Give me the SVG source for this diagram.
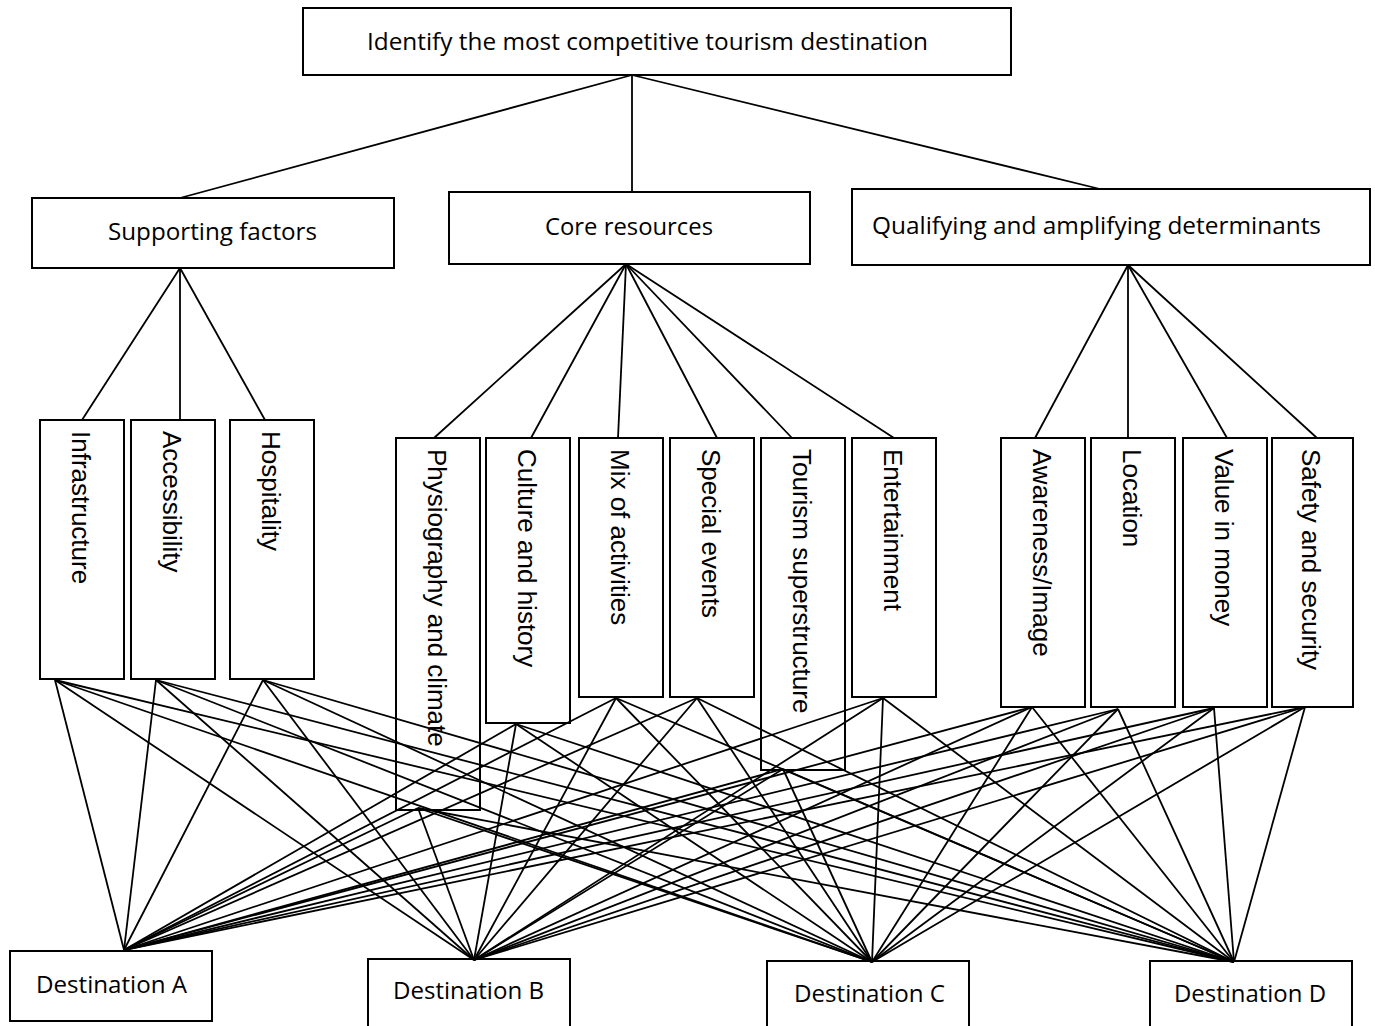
<svg xmlns="http://www.w3.org/2000/svg" width="1375" height="1026" viewBox="0 0 1375 1026">
<style>
.box{fill:#fff;stroke:#000;stroke-width:2}
.h{font-family:"Open Sans","Noto Sans",sans-serif;font-size:24px;fill:#000}
.v{font-family:"Liberation Sans",Arial,sans-serif;font-size:26px;fill:#000}
#connectors line{stroke:#000;stroke-width:1.8}
</style>
<rect width="1375" height="1026" fill="#fff"/>
<g id="goal"><rect class="box" x="303" y="8" width="708" height="67"/><text class="h" x="367" y="50" textLength="561" lengthAdjust="spacingAndGlyphs">Identify the most competitive tourism destination</text></g>
<g id="supporting-factors"><rect class="box" x="32" y="198" width="362" height="70"/><text class="h" x="108" y="240" textLength="209" lengthAdjust="spacingAndGlyphs">Supporting factors</text></g>
<g id="core-resources"><rect class="box" x="449" y="192" width="361" height="72"/><text class="h" x="545" y="235" textLength="168" lengthAdjust="spacingAndGlyphs">Core resources</text></g>
<g id="qualifying"><rect class="box" x="852" y="189" width="518" height="76"/><text class="h" x="872" y="234" textLength="449" lengthAdjust="spacingAndGlyphs">Qualifying and amplifying determinants</text></g>
<g id="infrastructure"><rect class="box" x="40" y="420" width="84" height="259"/><text class="v" transform="translate(72,431) rotate(90)">Infrastructure</text></g>
<g id="accessibility"><rect class="box" x="131" y="420" width="84" height="259"/><text class="v" transform="translate(163,431) rotate(90)">Accessibility</text></g>
<g id="hospitality"><rect class="box" x="230" y="420" width="84" height="259"/><text class="v" transform="translate(262,431) rotate(90)">Hospitality</text></g>
<g id="physiography"><rect class="box" x="396" y="438" width="84" height="372"/><text class="v" transform="translate(428,449) rotate(90)">Physiography and climate</text></g>
<g id="culture"><rect class="box" x="486" y="438" width="84" height="285"/><text class="v" transform="translate(518,449) rotate(90)">Culture and history</text></g>
<g id="mix"><rect class="box" x="579" y="438" width="84" height="259"/><text class="v" transform="translate(611,449) rotate(90)">Mix of activities</text></g>
<g id="special-events"><rect class="box" x="670" y="438" width="84" height="259"/><text class="v" transform="translate(702,449) rotate(90)">Special events</text></g>
<g id="superstructure"><rect class="box" x="761" y="438" width="84" height="332"/><text class="v" transform="translate(793,449) rotate(90)">Tourism superstructure</text></g>
<g id="entertainment"><rect class="box" x="852" y="438" width="84" height="259"/><text class="v" transform="translate(884,449) rotate(90)">Entertainment</text></g>
<g id="awareness"><rect class="box" x="1001" y="438" width="84" height="269"/><text class="v" transform="translate(1033,449) rotate(90)">Awareness/Image</text></g>
<g id="location"><rect class="box" x="1091" y="438" width="84" height="269"/><text class="v" transform="translate(1123,449) rotate(90)">Location</text></g>
<g id="value"><rect class="box" x="1183" y="438" width="84" height="269"/><text class="v" transform="translate(1215,449) rotate(90)">Value in money</text></g>
<g id="safety"><rect class="box" x="1272" y="438" width="81" height="269"/><text class="v" transform="translate(1302,449) rotate(90)">Safety and security</text></g>
<g id="dest-a"><rect class="box" x="10" y="951" width="202" height="70"/><text class="h" x="36" y="993" textLength="151" lengthAdjust="spacingAndGlyphs">Destination A</text></g>
<g id="dest-b"><rect class="box" x="368" y="959" width="202" height="80"/><text class="h" x="393" y="999" textLength="151" lengthAdjust="spacingAndGlyphs">Destination B</text></g>
<g id="dest-c"><rect class="box" x="767" y="961" width="202" height="80"/><text class="h" x="794" y="1002" textLength="151" lengthAdjust="spacingAndGlyphs">Destination C</text></g>
<g id="dest-d"><rect class="box" x="1150" y="961" width="202" height="80"/><text class="h" x="1174" y="1002" textLength="152" lengthAdjust="spacingAndGlyphs">Destination D</text></g>
<g id="connectors">
<line x1="632" y1="75" x2="180" y2="198"/>
<line x1="632" y1="75" x2="632" y2="192"/>
<line x1="632" y1="75" x2="1100" y2="189"/>
<line x1="180" y1="268" x2="82" y2="420"/>
<line x1="180" y1="268" x2="180" y2="420"/>
<line x1="180" y1="268" x2="265" y2="420"/>
<line x1="626" y1="264" x2="434" y2="438"/>
<line x1="626" y1="264" x2="531" y2="438"/>
<line x1="626" y1="264" x2="618" y2="438"/>
<line x1="626" y1="264" x2="717" y2="438"/>
<line x1="626" y1="264" x2="792" y2="438"/>
<line x1="626" y1="264" x2="894" y2="438"/>
<line x1="1128" y1="265" x2="1035" y2="438"/>
<line x1="1128" y1="265" x2="1128" y2="438"/>
<line x1="1128" y1="265" x2="1227" y2="438"/>
<line x1="1128" y1="265" x2="1317" y2="438"/>
<line x1="55" y1="680" x2="124" y2="950"/>
<line x1="55" y1="680" x2="474" y2="960"/>
<line x1="55" y1="680" x2="872" y2="962"/>
<line x1="55" y1="680" x2="1234" y2="962"/>
<line x1="156" y1="680" x2="124" y2="950"/>
<line x1="156" y1="680" x2="474" y2="960"/>
<line x1="156" y1="680" x2="872" y2="962"/>
<line x1="156" y1="680" x2="1234" y2="962"/>
<line x1="263" y1="680" x2="124" y2="950"/>
<line x1="263" y1="680" x2="474" y2="960"/>
<line x1="263" y1="680" x2="872" y2="962"/>
<line x1="263" y1="680" x2="1234" y2="962"/>
<line x1="418" y1="808" x2="124" y2="950"/>
<line x1="418" y1="808" x2="474" y2="960"/>
<line x1="418" y1="808" x2="872" y2="962"/>
<line x1="418" y1="808" x2="1234" y2="962"/>
<line x1="516" y1="724" x2="124" y2="950"/>
<line x1="516" y1="724" x2="474" y2="960"/>
<line x1="516" y1="724" x2="872" y2="962"/>
<line x1="516" y1="724" x2="1234" y2="962"/>
<line x1="616" y1="698" x2="124" y2="950"/>
<line x1="616" y1="698" x2="474" y2="960"/>
<line x1="616" y1="698" x2="872" y2="962"/>
<line x1="616" y1="698" x2="1234" y2="962"/>
<line x1="697" y1="698" x2="124" y2="950"/>
<line x1="697" y1="698" x2="474" y2="960"/>
<line x1="697" y1="698" x2="872" y2="962"/>
<line x1="697" y1="698" x2="1234" y2="962"/>
<line x1="783" y1="769" x2="124" y2="950"/>
<line x1="783" y1="769" x2="474" y2="960"/>
<line x1="783" y1="769" x2="872" y2="962"/>
<line x1="783" y1="769" x2="1234" y2="962"/>
<line x1="883" y1="698" x2="124" y2="950"/>
<line x1="883" y1="698" x2="474" y2="960"/>
<line x1="883" y1="698" x2="872" y2="962"/>
<line x1="883" y1="698" x2="1234" y2="962"/>
<line x1="1032" y1="707" x2="124" y2="950"/>
<line x1="1032" y1="707" x2="474" y2="960"/>
<line x1="1032" y1="707" x2="872" y2="962"/>
<line x1="1032" y1="707" x2="1234" y2="962"/>
<line x1="1118" y1="709" x2="124" y2="950"/>
<line x1="1118" y1="709" x2="474" y2="960"/>
<line x1="1118" y1="709" x2="872" y2="962"/>
<line x1="1118" y1="709" x2="1234" y2="962"/>
<line x1="1214" y1="708" x2="124" y2="950"/>
<line x1="1214" y1="708" x2="474" y2="960"/>
<line x1="1214" y1="708" x2="872" y2="962"/>
<line x1="1214" y1="708" x2="1234" y2="962"/>
<line x1="1305" y1="707" x2="124" y2="950"/>
<line x1="1305" y1="707" x2="474" y2="960"/>
<line x1="1305" y1="707" x2="872" y2="962"/>
<line x1="1305" y1="707" x2="1234" y2="962"/>
</g>
</svg>
